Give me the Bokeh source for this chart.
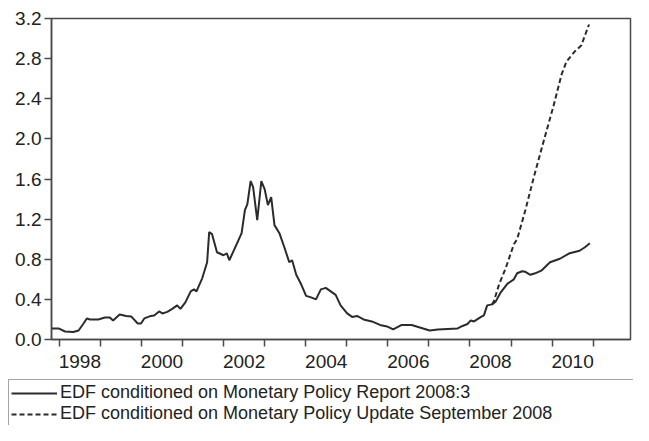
from bokeh.plotting import figure
from bokeh.layouts import column, row
from bokeh.models import (FixedTicker, CustomJSTickFormatter, Legend, LegendItem,
                          PrintfTickFormatter, Range1d)
from bokeh.embed import file_html
from bokeh.resources import INLINE

# ---- data ----
dates_report = [1997.82, 1997.98, 1998.14, 1998.34, 1998.47, 1998.59, 1998.67, 1998.75, 1998.95,
                1999.11, 1999.23, 1999.31, 1999.47, 1999.63, 1999.75, 1999.91, 1999.99,
                2000.07, 2000.23, 2000.31, 2000.43, 2000.51, 2000.63, 2000.75, 2000.87, 2000.95,
                2001.07, 2001.20, 2001.28, 2001.34, 2001.48, 2001.60, 2001.65, 2001.72, 2001.84, 2001.92,
                2002.00, 2002.08, 2002.14, 2002.32, 2002.44, 2002.52, 2002.58, 2002.66, 2002.72, 2002.82, 2002.92,
                2003.00, 2003.08, 2003.16, 2003.24, 2003.36, 2003.48, 2003.60, 2003.67, 2003.77, 2003.89,
                2004.01, 2004.13, 2004.25, 2004.37, 2004.49, 2004.61, 2004.73, 2004.85,
                2005.01, 2005.13, 2005.25, 2005.41, 2005.61, 2005.81, 2005.98,
                2006.13, 2006.34, 2006.58, 2006.78,
                2007.02, 2007.22, 2007.46, 2007.70, 2007.82, 2007.94,
                2008.02, 2008.10, 2008.27, 2008.34, 2008.42, 2008.54, 2008.63, 2008.75, 2008.91,
                2009.07, 2009.15, 2009.27, 2009.35, 2009.47, 2009.59, 2009.75, 2009.95,
                2010.19, 2010.43, 2010.67, 2010.80, 2010.92]
edf_report = [0.11, 0.11, 0.08, 0.075, 0.09, 0.16, 0.21, 0.20, 0.20,
              0.22, 0.22, 0.19, 0.25, 0.235, 0.23, 0.16, 0.16,
              0.21, 0.235, 0.24, 0.28, 0.26, 0.275, 0.305, 0.34, 0.305,
              0.37, 0.48, 0.50, 0.48, 0.61, 0.77, 1.07, 1.05, 0.87, 0.855,
              0.84, 0.86, 0.79, 0.95, 1.06, 1.29, 1.35, 1.58, 1.52, 1.19, 1.58,
              1.50, 1.34, 1.42, 1.14, 1.06, 0.92, 0.77, 0.79, 0.645, 0.55,
              0.435, 0.42, 0.40, 0.50, 0.515, 0.48, 0.445, 0.34,
              0.26, 0.225, 0.235, 0.20, 0.18, 0.145, 0.13,
              0.10, 0.145, 0.145, 0.12,
              0.09, 0.10, 0.105, 0.11, 0.135, 0.155,
              0.19, 0.18, 0.225, 0.24, 0.34, 0.35, 0.38, 0.47, 0.555,
              0.60, 0.66, 0.68, 0.675, 0.645, 0.66, 0.69, 0.77,
              0.805, 0.86, 0.885, 0.92, 0.96]

dates_update = [2008.54, 2008.59, 2008.71, 2008.87, 2009.07, 2009.15, 2009.35, 2009.55,
                2009.79, 2010.03, 2010.23, 2010.35, 2010.55, 2010.71, 2010.80, 2010.90]
edf_update = [0.35, 0.39, 0.55, 0.71, 0.95, 1.00, 1.29, 1.61,
              1.97, 2.32, 2.64, 2.77, 2.87, 2.93, 3.03, 3.14]

year_ticks = list(range(1998, 2012))
label_years = [1998, 2000, 2002, 2004, 2006, 2008, 2010]
y_ticks = [0.0, 0.4, 0.8, 1.2, 1.6, 2.0, 2.4, 2.8, 3.2]

label_report = "EDF conditioned on Monetary Policy Report 2008:3"
label_update = "EDF conditioned on Monetary Policy Update September 2008"

# ---- styles ----
FONT = "Liberation Sans"
AX = "#4a4a4a"
LINE = "#2b2b2b"
TXT = "#222222"
DASH = "5 3"

# ---- main chart ----
p = figure(width=633, height=379, output_backend="svg", toolbar_location=None,
           x_range=Range1d(1997.81, 2011.91), y_range=Range1d(0, 3.2),
           min_border_left=51, min_border_right=3, min_border_top=18, min_border_bottom=40,
           background_fill_color="white", border_fill_color="white")
p.grid.visible = False
p.outline_line_color = AX
p.outline_line_width = 1.5

p.line(dates_report, edf_report, line_color=LINE, line_width=2)
p.line(dates_update, edf_update, line_color=LINE, line_width=2, line_dash=DASH)

# x axis: unlabeled ticks at year boundaries, labels centred in even years
xa = p.xaxis[0]
xa.ticker = FixedTicker(ticks=[y + 0.5 for y in label_years], minor_ticks=year_ticks)
xa.formatter = CustomJSTickFormatter(code="return String(Math.floor(tick));")
xa.major_tick_out = 0
xa.major_tick_in = 0
xa.minor_tick_out = 7
xa.minor_tick_in = 0
xa.minor_tick_line_color = AX
xa.minor_tick_line_width = 1.5
xa.axis_line_color = AX
xa.axis_line_width = 1.5
xa.major_label_text_font = FONT
xa.major_label_text_font_size = "19px"
xa.major_label_text_color = TXT
xa.major_label_standoff = 8

ya = p.yaxis[0]
ya.ticker = FixedTicker(ticks=y_ticks)
ya.formatter = PrintfTickFormatter(format="%.1f")
ya.major_tick_out = 7
ya.major_tick_in = 0
ya.minor_tick_line_color = None
ya.major_tick_line_color = AX
ya.major_tick_line_width = 1.5
ya.axis_line_color = AX
ya.axis_line_width = 1.5
ya.major_label_text_font = FONT
ya.major_label_text_font_size = "19px"
ya.major_label_text_color = TXT
ya.major_label_standoff = 3

# ---- legend strip below the chart ----
lg = figure(width=633, height=46, output_backend="svg", toolbar_location=None,
            x_range=Range1d(0, 1), y_range=Range1d(0, 1),
            x_axis_location=None, y_axis_location=None,
            min_border_left=0, min_border_right=0, min_border_top=0, min_border_bottom=0,
            background_fill_color="white", border_fill_color="white")
lg.grid.visible = False
lg.outline_line_color = None
nan = float("nan")
k1 = lg.line(x=[nan, nan], y=[nan, nan], line_color=LINE, line_width=2)
k2 = lg.line(x=[nan, nan], y=[nan, nan], line_color=LINE, line_width=2, line_dash=DASH)

legend = Legend(items=[LegendItem(label=label_report, renderers=[k1]),
                       LegendItem(label=label_update, renderers=[k2])],
                location=(8, -2), orientation="vertical",
                glyph_width=46, glyph_height=18, label_height=18, label_standoff=3,
                label_width=600, padding=2, spacing=0, margin=0,
                label_text_font=FONT, label_text_font_size="18px", label_text_color=TXT,
                border_line_color=AX, border_line_width=1.5,
                background_fill_alpha=0)
lg.add_layout(legend, "center")

layout = column(p, row(lg), spacing=0)
open("out.html", "w").write(file_html(layout, INLINE))
